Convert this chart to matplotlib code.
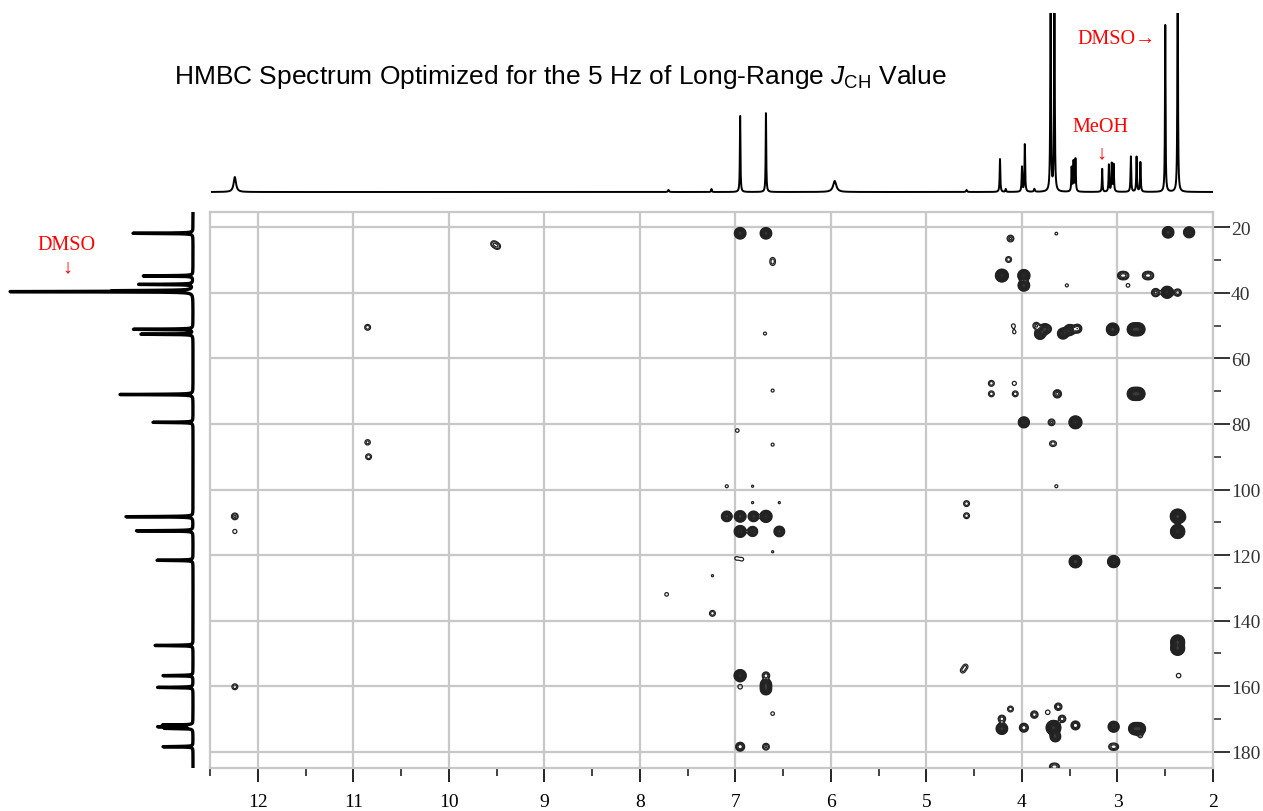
import numpy as np
import matplotlib.pyplot as plt

plt.rcParams['mathtext.fontset'] = 'custom'
plt.rcParams['mathtext.rm'] = 'Liberation Sans'
plt.rcParams['mathtext.it'] = 'Liberation Sans:italic'

# 1H projection (top): shift in ppm, height, half width in ppm
h_shift = [12.24, 7.70, 7.25, 6.95, 6.68, 5.96, 4.58, 4.23, 4.17, 4.00, 3.97, 3.87,
           3.70, 3.66, 3.48, 3.46, 3.44, 3.16, 3.09, 3.06, 3.04, 2.86, 2.80, 2.76,
           2.50, 2.37]
h_height = [15, 2, 3, 78, 80, 11, 2, 33, 3, 25, 48, 3,
            260, 260, 24, 30, 33, 23, 27, 28, 27, 36, 35, 30,
            169, 260]
h_width = [0.015, 0.006, 0.004, 0.0035, 0.0035, 0.02, 0.006, 0.004, 0.004, 0.004, 0.004, 0.006,
           0.0035, 0.0035, 0.004, 0.004, 0.004, 0.0035, 0.004, 0.004, 0.004, 0.004, 0.004, 0.004,
           0.0035, 0.0035]

# 13C projection (left): shift in ppm, height
c_shift = [21.8, 34.8, 37.4, 39.3, 39.6, 51.1, 52.6, 71.0, 79.5, 108.3, 112.6, 121.6,
           147.6, 156.8, 160.4, 171.9, 172.4, 172.9, 178.5]
c_height = [60, 50, 54, 70, 181, 60, 52, 73, 40, 67, 57, 36,
            38, 30, 36, 30, 34, 28, 30]

# HMBC cross peaks: 1H shift, 13C shift, intensity
xp_h = [2.47, 2.25, 4.12, 3.64, 4.14, 4.21, 3.98, 3.98, 3.53, 2.96, 2.92, 2.89,
        2.70, 2.66, 2.60, 2.48, 2.37, 4.09, 4.08, 3.85, 3.81, 3.76, 3.72, 3.57,
        3.50, 3.42, 3.05, 2.83, 2.78, 4.32, 4.32, 4.08, 4.07, 3.63, 2.83, 2.78,
        3.98, 3.69, 3.44, 3.69, 3.66, 3.64, 4.58, 4.58, 2.37, 2.33, 2.37, 3.44,
        3.04, 2.37, 2.37, 2.36, 4.59, 4.62, 4.12, 4.21, 4.21, 3.98, 3.87, 3.73,
        3.62, 3.58, 3.67, 3.65, 3.44, 3.04, 2.82, 2.77, 3.06, 3.02, 3.68, 3.64,
        2.76,
        6.95, 6.68, 6.61, 6.61, 6.69, 6.61, 6.98, 6.61, 7.09, 6.82, 6.82, 6.54,
        7.09, 6.95, 6.81, 6.68, 6.95, 6.82, 6.54, 6.61, 6.99, 6.93, 7.24, 7.24,
        7.72, 6.95, 6.68, 6.95, 6.68, 6.68, 6.61, 6.95, 6.68,
        9.53, 9.49, 10.85, 10.85, 10.84, 12.24, 12.24, 12.24]
xp_c = [21.5, 21.5, 23.4, 21.9, 29.8, 34.7, 34.7, 37.7, 37.7, 34.7, 34.7, 37.7,
        34.7, 34.7, 39.9, 39.8, 39.9, 50.0, 52.0, 50.0, 52.5, 51.0, 51.0, 52.4,
        51.3, 50.9, 51.1, 51.1, 51.1, 67.6, 70.8, 67.6, 70.8, 70.8, 70.8, 70.8,
        79.5, 79.5, 79.5, 86.0, 86.0, 99.0, 104.3, 108.0, 108.2, 108.5, 112.8, 122.0,
        122.0, 146.5, 148.5, 156.8, 154.0, 155.3, 167.0, 170.0, 173.0, 172.7, 168.7, 168.0,
        166.3, 170.0, 172.7, 175.4, 172.0, 172.4, 173.0, 173.0, 178.5, 178.5, 184.6, 184.6,
        175.2,
        21.8, 21.8, 29.8, 31.0, 52.4, 69.8, 82.0, 86.3, 99.0, 99.0, 104.0, 104.0,
        108.2, 108.2, 108.2, 108.2, 112.8, 112.8, 112.8, 119.0, 121.0, 121.3, 126.3, 137.8,
        132.0, 156.8, 156.8, 160.2, 159.5, 161.0, 168.4, 178.5, 178.5,
        25.0, 25.8, 50.5, 85.6, 90.0, 108.2, 112.8, 160.2]
xp_i = [15, 12, 2.5, 1.15, 2, 30, 20, 15, 1.2, 3, 3, 1.3,
        3, 3, 4, 20, 3, 1.3, 1.2, 2.5, 12, 10, 1.3, 12,
        12, 5, 25, 30, 30, 2, 2, 1.4, 2, 4, 30, 30,
        12, 2.5, 30, 1.15, 1.15, 1.2, 2, 2, 80, 2.5, 60, 25,
        20, 50, 50, 1.5, 1.5, 1.5, 2, 3, 15, 5, 3, 1.5,
        3, 3, 80, 10, 5, 12, 20, 20, 2, 2, 2, 2,
        1.3,
        15, 15, 1.3, 1.3, 1.2, 1.2, 1.3, 1.2, 1.2, 1.1, 1.1, 1.1,
        10, 15, 10, 20, 18, 8, 10, 1.1, 1.2, 1.2, 1.1, 2,
        1.3, 20, 3, 1.5, 12, 12, 1.3, 5, 2.5,
        2, 2, 2, 1.8, 2, 2.5, 1.4, 2]

W, H = 1263, 812
fig = plt.figure(figsize=(W / 100, H / 100), dpi=100)


def box(l, t, r, b):
    return [l / W, 1 - b / H, (r - l) / W, (b - t) / H]


ax = fig.add_axes(box(210, 213, 1213, 769))
top = fig.add_axes(box(210, 14, 1213, 196))
left = fig.add_axes(box(0, 213, 196, 769))

# 2D contour map
gh = np.linspace(12.5, 2, 2100)
gc = np.linspace(15, 185, 1200)
sh, sc = 0.026, 0.75
A = np.exp(-0.5 * ((gh[None, :] - np.array(xp_h)[:, None]) / sh) ** 2)
B = np.exp(-0.5 * ((gc[None, :] - np.array(xp_c)[:, None]) / sc) ** 2)
Z = (B.T * np.array(xp_i)) @ A
levels = 1.0 * 1.5 ** np.arange(12)
ax.contourf(gh, gc, Z, levels=[6, 1e4], colors=['#3c3c3c'], zorder=2)
ax.contour(gh, gc, Z, levels=levels, colors='#222222', linewidths=0.9, zorder=3)

ax.set_xlim(12.5, 2)
ax.set_ylim(185, 15.3)
ax.set_xticks(np.arange(2, 13))
ax.set_xticks(np.arange(2.5, 12.6, 1), minor=True)
ax.set_yticks(np.arange(20, 181, 20))
ax.set_yticks(np.arange(30, 171, 20), minor=True)
ax.yaxis.tick_right()
ax.grid(True, which='major', color='#c8c8c8', lw=1.6)
ax.set_axisbelow(True)
for s in ax.spines.values():
    s.set_color('#c8c8c8')
    s.set_linewidth(1.6)
ax.tick_params(axis='x', which='major', length=10, width=1.4, color='#222222', labelsize=14, pad=8)
ax.tick_params(axis='x', which='minor', length=6, width=1.2, color='#222222')
ax.tick_params(axis='y', which='major', length=12, width=1.4, color='#333333', labelsize=14,
               pad=1, labelcolor='#333333')
ax.tick_params(axis='y', which='minor', length=6, width=1.2, color='#333333')
for lab in ax.get_xticklabels() + ax.get_yticklabels():
    lab.set_family('Liberation Serif')

# 1H projection
hx = np.linspace(12.48, 2.0, 9000)
hy = np.zeros_like(hx)
for s, h, w in zip(h_shift, h_height, h_width):
    hy += h * w ** 2 / ((hx - s) ** 2 + w ** 2)
top.plot(hx, hy, color='black', lw=1.4)
top.set_xlim(12.5, 2)
top.set_ylim(-3, 179)
top.axis('off')

# 13C projection
cy = np.linspace(15, 185, 8000)
cx = np.zeros_like(cy)
for s, h in zip(c_shift, c_height):
    cx += h * 0.08 ** 2 / ((cy - s) ** 2 + 0.08 ** 2)
left.plot(cx, cy, color='black', lw=2.4)
left.set_xlim(193, -3)
left.set_ylim(185, 15.3)
left.axis('off')

fig.text(560 / W, 1 - 84 / H,
         r'HMBC Spectrum Optimized for the 5 Hz of Long-Range $J_{\mathrm{CH}}$ Value',
         ha='center', va='baseline', fontsize=19, family='Liberation Sans')

red = dict(color='#ff0000', fontsize=14.5, family=['Liberation Serif', 'DejaVu Serif'])
fig.text(67 / W, 1 - 245 / H, 'DMSO', ha='center', va='center', **red)
fig.text(67 / W, 1 - 268 / H, '↓', ha='center', va='center', **red)
fig.text(1100 / W, 1 - 128 / H, 'MeOH', ha='center', va='center', **red)
fig.text(1101 / W, 1 - 154 / H, '↓', ha='center', va='center', **red)
fig.text(1077 / W, 1 - 40 / H, 'DMSO→', ha='left', va='center', **red)

fig.savefig('out.png', dpi=100)
